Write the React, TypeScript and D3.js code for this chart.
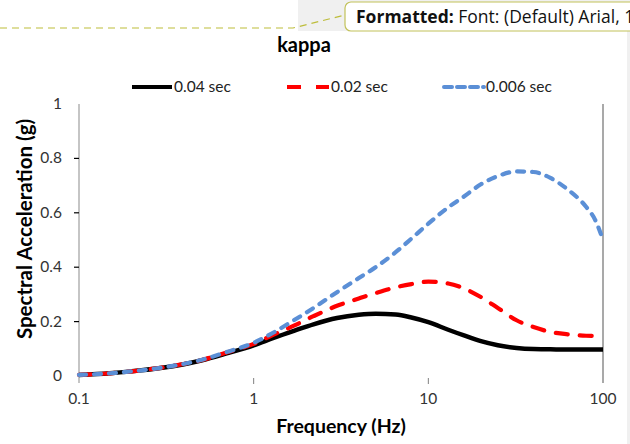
import React from "react";
import * as d3 from "d3";

// Frequency grid (Hz) shared by all three spectra
const frequencies = [0.1, 0.15, 0.2, 0.3, 0.5, 0.7, 1, 1.3, 1.7, 2.2, 3, 4, 5, 6.5, 8, 10, 13, 16, 20, 25, 32, 40, 50, 63, 80, 90, 100];

// Spectral acceleration (g) for each kappa value
const kappa004 = [0.004, 0.010, 0.017, 0.030, 0.057, 0.083, 0.113, 0.140, 0.166, 0.190, 0.213, 0.225, 0.229, 0.226, 0.215, 0.198, 0.170, 0.149, 0.128, 0.113, 0.103, 0.099, 0.098, 0.097, 0.097, 0.097, 0.097];
const kappa002 = [0.004, 0.010, 0.017, 0.031, 0.058, 0.086, 0.118, 0.152, 0.185, 0.220, 0.258, 0.285, 0.305, 0.326, 0.338, 0.347, 0.340, 0.322, 0.290, 0.250, 0.205, 0.180, 0.162, 0.153, 0.148, 0.147, 0.146];
const kappa0006 = [0.004, 0.010, 0.017, 0.031, 0.059, 0.088, 0.122, 0.160, 0.205, 0.250, 0.308, 0.360, 0.400, 0.455, 0.505, 0.560, 0.620, 0.660, 0.705, 0.735, 0.752, 0.750, 0.728, 0.685, 0.622, 0.575, 0.500];

const seriesNames = ["0.04 sec", "0.02 sec", "0.006 sec"];
const xTicks = [0.1, 1, 10, 100];
const yTicks = [0, 0.2, 0.4, 0.6, 0.8, 1];

const W = 630;
const H = 444;
const plot = { left: 79, right: 603, top: 104, bottom: 376 };

const FONT = "Lato, 'Open Sans', sans-serif";

export default function App() {
  const x = d3.scaleLog().domain([0.1, 100]).range([plot.left, plot.right]);
  const y = d3.scaleLinear().domain([0, 1]).range([plot.bottom, plot.top]);

  const line = d3
    .line<number>()
    .x((_, i) => x(frequencies[i]))
    .y((d) => y(d))
    .curve(d3.curveMonotoneX);

  const styles = [
    { color: "#000000", dash: undefined as string | undefined, width: 4.5, cap: "butt" },
    { color: "#ff0000", dash: "12 12", width: 4.2, cap: "round" },
    { color: "#5b8fd6", dash: "7 8", width: 4.2, cap: "round" },
  ];
  const series = [kappa004, kappa002, kappa0006];

  const legendItems = [
    { x1: 132, x2: 172, tx: 174 },
    { x1: 287, x2: 329, tx: 331 },
    { x1: 444, x2: 484, tx: 486 },
  ];
  const legendDash = [undefined, "14 15", "8 5"];
  const legendCap = ["butt", "butt", "round"];

  return (
    <svg
      width={W}
      height={H}
      style={{ position: "absolute", left: 0, top: 0, background: "#ffffff" }}
      fontFamily={FONT}
    >
      <rect x={0} y={0} width={W} height={H} fill="#ffffff" />

      {/* review pane strip along the top and right edge */}
      <rect x={298} y={0} width={W - 298} height={31} fill="#f0f0f0" />
      <rect x={627} y={0} width={3} height={H} fill="#f0f0f0" />
      <path
        d="M0,28 L293,28 L345,15"
        fill="none"
        stroke="#bdbd3a"
        strokeWidth={1.2}
        strokeDasharray="7 5"
      />
      <rect x={345} y={2} width={320} height={29} rx={6} fill="#ffffff" stroke="#c2c25a" strokeWidth={1.2} />
      <text x={356} y={23} fontFamily="'Open Sans', 'DejaVu Sans', sans-serif" fontSize={17.5} fill="#111">
        <tspan fontWeight="bold">Formatted:</tspan>
        <tspan> Font: (Default) Arial, 11</tspan>
      </text>

      {/* title */}
      <text x={304} y={52} textAnchor="middle" fontSize={20} fontWeight="bold" fill="#000">
        kappa
      </text>

      {/* legend */}
      {legendItems.map((it, i) => (
        <g key={seriesNames[i]}>
          <line
            x1={it.x1}
            x2={it.x2}
            y1={87}
            y2={87}
            stroke={styles[i].color}
            strokeWidth={4}
            strokeDasharray={legendDash[i]}
            strokeLinecap={legendCap[i] as any}
          />
          <text x={it.tx} y={92} fontSize={15.5} fill="#222">
            {seriesNames[i]}
          </text>
        </g>
      ))}

      {/* axes */}
      <line x1={plot.left} x2={plot.left} y1={plot.top} y2={plot.bottom + 7} stroke="#a6a6a6" strokeWidth={1.3} />
      <line x1={plot.right} x2={plot.right} y1={plot.top} y2={plot.bottom + 7} stroke="#707070" strokeWidth={1.2} />
      {yTicks.map((t) => (
        <g key={"y" + t}>
          {t > 0 && t < 1 && (
            <line x1={plot.left - 5} x2={plot.left} y1={y(t)} y2={y(t)} stroke="#000" strokeWidth={1.2} />
          )}
          <text x={62} y={y(t) + 5} textAnchor="end" fontSize={15.5} fill="#333">
            {t}
          </text>
        </g>
      ))}
      {xTicks.map((t) => (
        <g key={"x" + t}>
          {t > 0.1 && t < 100 && (
            <line x1={x(t)} x2={x(t)} y1={plot.bottom + 2} y2={plot.bottom + 8} stroke="#808080" strokeWidth={1} />
          )}
          <text x={x(t)} y={404} textAnchor="middle" fontSize={15.5} fill="#333">
            {t}
          </text>
        </g>
      ))}

      {/* axis titles */}
      <text x={341} y={433} textAnchor="middle" fontSize={19.5} fontWeight="bold" fill="#000">
        Frequency (Hz)
      </text>
      <text
        transform={`translate(32, 229) rotate(-90)`}
        textAnchor="middle"
        fontSize={20.5}
        fontWeight="bold"
        fill="#000"
      >
        Spectral Acceleration (g)
      </text>

      {/* spectra */}
      {series.map((vals, i) => (
        <path
          key={seriesNames[i]}
          d={line(vals) || ""}
          fill="none"
          stroke={styles[i].color}
          strokeWidth={styles[i].width}
          strokeDasharray={styles[i].dash}
          strokeLinecap={styles[i].cap as any}
          strokeLinejoin="round"
        />
      ))}
    </svg>
  );
}
